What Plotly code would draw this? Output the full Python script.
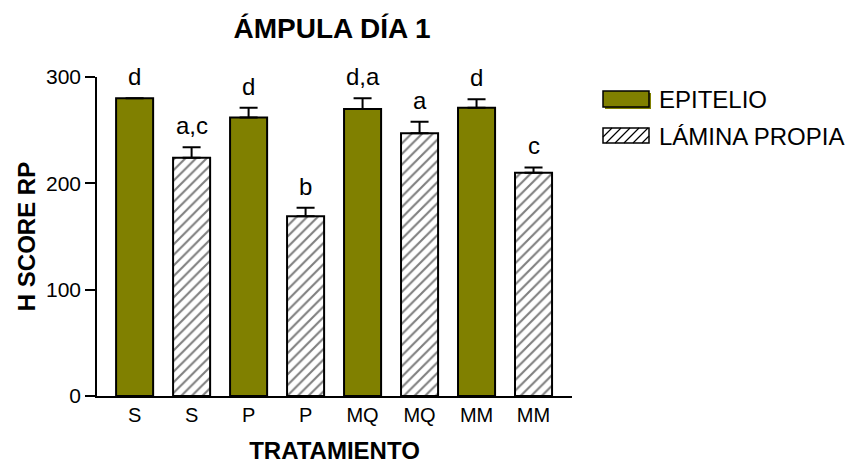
import plotly.graph_objects as go

# ---------------- data ----------------
tick_labels = ["S", "S", "P", "P", "MQ", "MQ", "MM", "MM"]
groups = ["S", "P", "MQ", "MM"]
epitelio_vals = [280, 262, 270, 271]
epitelio_err = [0, 9, 10, 8]
epitelio_letters = ["d", "d", "d,a", "d"]
lamina_vals = [224, 169, 247, 210]
lamina_err = [10, 8, 11, 5]
lamina_letters = ["a,c", "b", "a", "c"]
y_ticks = [0, 100, 200, 300]

# ---------------- layout geometry (pixels) ----------------
W, H = 857, 464
L, R, T, B = 97, 285, 77, 68
PW, PH = W - L - R, H - T - B
FONT = "Arial, 'Liberation Sans', Helvetica, sans-serif"
OLIVE = "#808000"


def px_x(px):
    return (px - L) / PW


def px_y(py):
    return (H - B - py) / PH


x_epi = [2 * i for i in range(len(groups))]
x_lam = [2 * i + 1 for i in range(len(groups))]

fig = go.Figure()
fig.add_trace(go.Bar(
    x=x_epi, y=epitelio_vals, width=0.65, name="EPITELIO",
    marker=dict(color=OLIVE, line=dict(color="black", width=2)),
    error_y=dict(type="data", symmetric=False, array=epitelio_err,
                 arrayminus=[0] * len(epitelio_err), color="black",
                 thickness=2, width=9),
    showlegend=False,
))
fig.add_trace(go.Bar(
    x=x_lam, y=lamina_vals, width=0.65, name="LÁMINA PROPIA",
    marker=dict(color="white", line=dict(color="black", width=2),
                pattern=dict(shape="/", fgcolor="black", bgcolor="white",
                             size=7.5, solidity=0.28)),
    error_y=dict(type="data", symmetric=False, array=lamina_err,
                 arrayminus=[0] * len(lamina_err), color="black",
                 thickness=2, width=9),
    showlegend=False,
))

annotations = []
for xs, vals, errs, letters in [(x_epi, epitelio_vals, epitelio_err, epitelio_letters),
                                (x_lam, lamina_vals, lamina_err, lamina_letters)]:
    for x, v, e, t in zip(xs, vals, errs, letters):
        annotations.append(dict(x=x, y=v + e, text=t, showarrow=False,
                                xref="x", yref="y", yanchor="bottom", yshift=6,
                                font=dict(family=FONT, size=24, color="black")))

# legend (drawn manually to match the large swatches)
shapes = []
shapes.append(dict(type="rect", xref="paper", yref="paper",
                   x0=px_x(605), x1=px_x(651), y0=px_y(109), y1=px_y(93),
                   fillcolor=OLIVE, line=dict(width=0)))
shapes.append(dict(type="rect", xref="paper", yref="paper",
                   x0=px_x(603), x1=px_x(649), y0=px_y(107), y1=px_y(91),
                   fillcolor=OLIVE, line=dict(color="black", width=1.5)))
bx0, bx1, by0, by1 = 603, 649, 128, 143
shapes.append(dict(type="rect", xref="paper", yref="paper",
                   x0=px_x(bx0), x1=px_x(bx1), y0=px_y(by1), y1=px_y(by0),
                   fillcolor="white", line=dict(color="black", width=1.5)))
h = by1 - by0
path = ""
a = bx0 - h
while a < bx1:
    t0 = max(0.0, (bx0 - a) / h)
    t1 = min(1.0, (bx1 - a) / h)
    if t0 < t1:
        xa, ya = a + t0 * h, by1 - t0 * h
        xb, yb = a + t1 * h, by1 - t1 * h
        path += f"M{px_x(xa):.5f},{px_y(ya):.5f} L{px_x(xb):.5f},{px_y(yb):.5f} "
    a += 9
shapes.append(dict(type="path", xref="paper", yref="paper", path=path,
                   line=dict(color="black", width=1.2)))

annotations.append(dict(x=px_x(657), y=px_y(99), xref="paper", yref="paper",
                        text="EPITELIO", showarrow=False, xanchor="left",
                        yanchor="middle", font=dict(family=FONT, size=24, color="black")))
annotations.append(dict(x=px_x(657), y=px_y(136), xref="paper", yref="paper",
                        text="LÁMINA PROPIA", showarrow=False, xanchor="left",
                        yanchor="middle", font=dict(family=FONT, size=24, color="black")))

fig.update_layout(
    width=W, height=H, autosize=False,
    margin=dict(l=L, r=R, t=T, b=B, pad=0),
    paper_bgcolor="white", plot_bgcolor="white",
    barmode="overlay",
    font=dict(family=FONT, color="black"),
    title=dict(text="<b>ÁMPULA DÍA 1</b>", x=px_x(332), xref="paper", xanchor="center",
               y=1 - 28 / H, yref="container", yanchor="middle",
               font=dict(family=FONT, size=28, color="black")),
    xaxis=dict(range=[-0.66, 7.675], tickvals=list(range(len(tick_labels))),
               ticktext=tick_labels, showline=True, linecolor="black", linewidth=1.5,
               ticks="", showgrid=False, zeroline=False, automargin=False,
               tickfont=dict(family=FONT, size=20, color="black"),
               title=dict(text="<b>TRATAMIENTO</b>", standoff=18,
                          font=dict(family=FONT, size=24, color="black"))),
    yaxis=dict(range=[0, 300], tickvals=y_ticks, showline=True, linecolor="black",
               linewidth=1.5, ticks="outside", ticklen=10, tickwidth=1.5,
               tickcolor="black", showgrid=False, zeroline=False, automargin=False,
               tickfont=dict(family=FONT, size=21, color="black"),
               title=dict(text="<b>H SCORE RP</b>", standoff=4,
                          font=dict(family=FONT, size=24, color="black"))),
    shapes=shapes,
    annotations=annotations,
)

fig.write_html("out.html", config={"displayModeBar": False},
               post_script="document.body.style.margin='0';document.body.style.padding='0';")
